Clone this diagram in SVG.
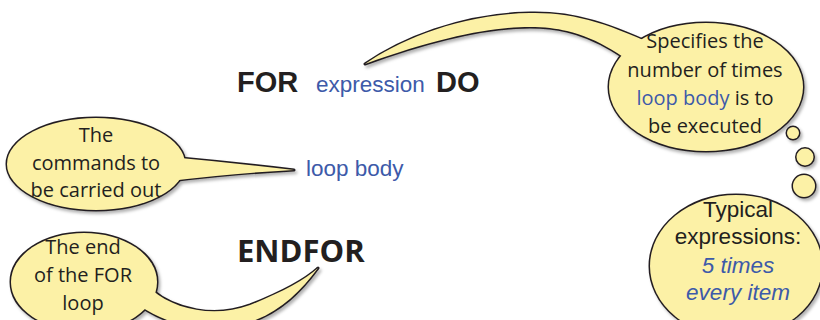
<svg xmlns="http://www.w3.org/2000/svg" width="820" height="320" viewBox="0 0 820 320">
  <style>
    .kw { font-family: "Liberation Sans", Arial, sans-serif; font-weight: bold; font-size: 29px; fill: #231f20; }
    .kw2 { font-family: "Open Sans", "Noto Sans", sans-serif; font-weight: bold; font-size: 31px; fill: #231f20; }
    .code { font-family: "Liberation Sans", Arial, sans-serif; font-size: 22.5px; fill: #3d5aa9; }
    .note { font-family: "Open Sans", "Noto Sans", sans-serif; font-size: 20px; fill: #231f20; text-anchor: middle; }
    .note2 { font-family: "Liberation Sans", Arial, sans-serif; font-size: 22.5px; fill: #231f20; text-anchor: middle; }
    .blue { fill: #3d5aa9; }
    .it { font-style: italic; }
    /* outline layer: thick black strokes under a fill-only copy gives one outline per callout */
    .edge { fill: #231f20; stroke: #231f20; stroke-width: 3; stroke-linejoin: round; }
    .body { fill: #fcf1a6; stroke: none; }
  </style>
  <defs>
    <filter id="shadow" x="-10%" y="-10%" width="130%" height="130%">
      <feDropShadow dx="2" dy="2.5" stdDeviation="1.5" flood-color="#000" flood-opacity="0.3"/>
    </filter>
    <!-- callout shapes, reused for the outline and the fill -->
    <g id="shape-commands">
      <ellipse cx="96" cy="164" rx="89" ry="46"/>
      <path d="M170,157 Q235,163 294,170 Q235,173 170,181 Z"/>
    </g>
    <g id="shape-end">
      <ellipse cx="84" cy="282" rx="73" ry="49"/>
      <path d="M140,282 L152,290 C175,310 215,318 250,305 C280,293 305,280 318,268 C300,292 280,312 250,322 C210,336 170,326 140,306 Z"/>
    </g>
    <g id="shape-specifies">
      <ellipse cx="706" cy="87" rx="97" ry="64"/>
      <path d="M365,64 C400,40 460,14 530,13 C575,12 610,24 665,50 L655,80 C625,57 598,38 567,31 C530,22 470,26 365,64 Z"/>
    </g>
    <g id="shape-typical">
      <ellipse cx="736" cy="266" rx="86" ry="71"/>
      <circle cx="804" cy="186" r="11"/>
      <circle cx="805" cy="157" r="8.5"/>
      <circle cx="793" cy="133" r="6"/>
    </g>
  </defs>

  <!-- statement keywords -->
  <g id="for-line">
    <text class="kw" x="237" y="92">FOR</text>
    <text class="code" x="316" y="92">expression</text>
    <text class="kw" x="436" y="92">DO</text>
  </g>
  <g id="loop-body">
    <text class="code" x="306" y="176" font-size="23">loop body</text>
  </g>
  <g id="endfor">
    <text class="kw2" x="237" y="262">ENDFOR</text>
  </g>

  <!-- callouts -->
  <g id="callout-commands">
    <use href="#shape-commands" class="edge" filter="url(#shadow)"/>
    <use href="#shape-commands" class="body"/>
    <text class="note" x="96" y="142">The</text>
    <text class="note" x="96" y="170">commands to</text>
    <text class="note" x="96" y="197">be carried out</text>
  </g>

  <g id="callout-end">
    <use href="#shape-end" class="edge" filter="url(#shadow)"/>
    <use href="#shape-end" class="body"/>
    <text class="note" x="83" y="254">The end</text>
    <text class="note" x="83" y="282">of the FOR</text>
    <text class="note" x="83" y="310">loop</text>
  </g>

  <g id="callout-specifies">
    <use href="#shape-specifies" class="edge" filter="url(#shadow)"/>
    <use href="#shape-specifies" class="body"/>
    <text class="note" x="705" y="48">Specifies the</text>
    <text class="note" x="705" y="77">number of times</text>
    <text class="note" x="705" y="105"><tspan class="blue">loop body</tspan> is to</text>
    <text class="note" x="705" y="133">be executed</text>
  </g>

  <g id="callout-typical">
    <use href="#shape-typical" class="edge" filter="url(#shadow)"/>
    <use href="#shape-typical" class="body"/>
    <text class="note2" x="738" y="217">Typical</text>
    <text class="note2" x="738" y="244">expressions:</text>
    <text class="note2 blue it" x="738" y="273">5 times</text>
    <text class="note2 blue it" x="738" y="300">every item</text>
  </g>

  <g id="connectors"/>
</svg>
